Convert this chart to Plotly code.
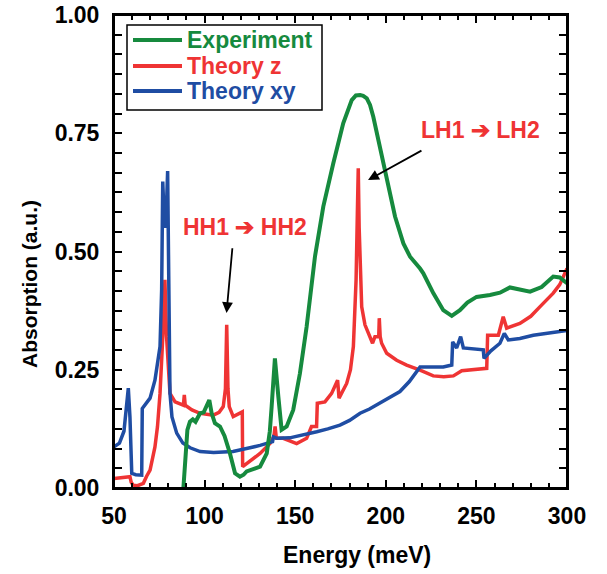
import plotly.graph_objects as go

# ---------------- data ----------------
xy_energy = [50, 53, 55.5, 57, 57.9, 58.8, 59.8, 62, 65.3, 65.6, 68, 69.9, 72.6, 74, 75.4, 76.3, 76.9,
             77.6, 78.3, 79.0, 79.6, 80.2, 80.9, 82, 84.6, 88, 92, 97.5, 105, 115.7, 120, 125, 130.6,
             135, 137.5, 138, 140, 147, 155, 161.9, 168, 174.7, 180, 185.8, 191, 196.8, 202, 207.8,
             213, 218.9, 225, 231.7, 236.4, 236.9, 239.1, 241.3, 242.8, 248, 253.8, 254.2, 258, 263,
             265.4, 267.6, 274, 281.4, 290, 300]
xy_abs = [0.087, 0.095, 0.12, 0.17, 0.211, 0.15, 0.031, 0.028, 0.027, 0.168, 0.18, 0.19, 0.228, 0.26,
          0.299, 0.42, 0.648, 0.58, 0.55, 0.60, 0.670, 0.45, 0.2, 0.15, 0.116, 0.095, 0.085, 0.077,
          0.075, 0.077, 0.08, 0.085, 0.09, 0.095, 0.098, 0.108, 0.105, 0.106, 0.112, 0.119, 0.125,
          0.133, 0.143, 0.158, 0.167, 0.18, 0.192, 0.204, 0.225, 0.256, 0.256, 0.256, 0.26, 0.309,
          0.296, 0.32, 0.296, 0.294, 0.292, 0.274, 0.29, 0.306, 0.327, 0.313, 0.316, 0.323, 0.328, 0.333]

z_energy = [50, 55, 58.8, 59.5, 60.6, 63, 65.5, 66.2, 68, 69.9, 72.6, 74, 75.4, 76.5, 77.2, 78.1, 79,
            80.9, 83.7, 88.3, 88.8, 89.3, 93, 97.5, 104.8, 108, 110.3, 111.5, 112.2, 112.9, 113.6,
            115.8, 118, 120.4, 120.8, 121, 125, 130.6, 136.1, 138.3, 138.9, 139.6, 143.4, 150.8,
            156.3, 159, 161.8, 162.2, 166.4, 170.1, 173.4, 174.2, 178.4, 180.5, 182.1, 183.6, 184.3,
            184.8, 185.3, 186.7, 188.5, 190.4, 192.7, 194, 196.1, 196.4, 196.9, 197.7, 200.5, 206,
            211.5, 218.9, 226.2, 232, 237.3, 241.9, 248, 255.7, 256.2, 262.1, 264.8, 266.7, 274,
            280, 285, 292.4, 296, 300]
z_abs = [0.02, 0.022, 0.024, 0.012, 0.006, 0.005, 0.008, 0.01, 0.025, 0.038, 0.087, 0.13, 0.2, 0.27,
         0.341, 0.44, 0.32, 0.2, 0.182, 0.175, 0.197, 0.175, 0.165, 0.158, 0.154, 0.16, 0.172, 0.21,
         0.345, 0.21, 0.172, 0.151, 0.155, 0.161, 0.161, 0.045, 0.056, 0.073, 0.094, 0.11, 0.13,
         0.105, 0.105, 0.094, 0.105, 0.13, 0.13, 0.179, 0.182, 0.2, 0.228, 0.19, 0.221, 0.25, 0.299,
         0.44, 0.58, 0.676, 0.55, 0.383, 0.345, 0.327, 0.306, 0.32, 0.32, 0.359, 0.32, 0.306, 0.285,
         0.27, 0.26, 0.249, 0.237, 0.235, 0.237, 0.248, 0.25, 0.253, 0.323, 0.323, 0.362, 0.338,
         0.348, 0.363, 0.383, 0.412, 0.43, 0.464]

exp_energy = [88.3, 89.5, 90.5, 91.9, 93.5, 95, 97.5, 99.5, 101.1, 102.6, 103.9, 105.7, 108.5, 111,
              114, 116.8, 119.5, 121.5, 123.2, 127, 130.6, 134.3, 136, 137, 138.8, 140.7, 142.5,
              145.3, 148.9, 152.6, 156.3, 160.9, 165.5, 171, 176.5, 181.2, 183.5, 185.8, 187.5,
              189.5, 191.3, 193.1, 196.8, 200.5, 205.1, 209.7, 213.4, 218.9, 220.7, 226.2, 231.7,
              236.4, 240.9, 245, 250.1, 257.5, 263, 268.5, 274, 279.6, 286, 292.4, 296, 300]
exp_abs = [0.0, 0.07, 0.123, 0.14, 0.145, 0.14, 0.158, 0.16, 0.175, 0.186, 0.158, 0.137, 0.13, 0.11,
           0.073, 0.031, 0.024, 0.028, 0.035, 0.04, 0.045, 0.073, 0.12, 0.172, 0.274, 0.193, 0.123,
           0.13, 0.165, 0.242, 0.341, 0.489, 0.595, 0.686, 0.771, 0.82, 0.83, 0.831, 0.829, 0.824,
           0.81, 0.785, 0.722, 0.651, 0.574, 0.517, 0.489, 0.464, 0.454, 0.412, 0.376, 0.364, 0.376,
           0.392, 0.404, 0.408, 0.413, 0.424, 0.42, 0.415, 0.425, 0.447, 0.445, 0.433]

series_names = ["Experiment", "Theory z", "Theory xy"]
x_ticks = [50, 100, 150, 200, 250, 300]
y_ticks = [0.0, 0.25, 0.5, 0.75, 1.0]
y_tick_labels = ["0.00", "0.25", "0.50", "0.75", "1.00"]

GREEN = "#168A3E"
RED = "#EF3434"
BLUE = "#1F4DA3"
FONT = "Liberation Sans"

W, H = 607, 574
# plot area in window pixels: x 114..567, y 15..488
ML, MT = 114, 15
MR, MB = W - 567, H - 488

fig = go.Figure()
fig.add_trace(go.Scatter(x=z_energy, y=z_abs, mode="lines", name=series_names[1],
                         line=dict(color=RED, width=3.5), showlegend=False))
fig.add_trace(go.Scatter(x=xy_energy, y=xy_abs, mode="lines", name=series_names[2],
                         line=dict(color=BLUE, width=3.5), showlegend=False))
# Experiment is drawn against the top (mirror) energy axis, which matches the bottom one
fig.add_trace(go.Scatter(x=exp_energy, y=exp_abs, mode="lines", name=series_names[0],
                         line=dict(color=GREEN, width=4), showlegend=False, xaxis="x2", yaxis="y"))

axis_common = dict(showline=True, linewidth=2, linecolor="black", mirror="allticks",
                   ticks="inside", ticklen=8, tickwidth=2, tickcolor="black",
                   showgrid=False, zeroline=False, automargin=False, ticklabeloverflow="allow",
                   layer="above traces",
                   tickfont=dict(family=FONT, size=23, color="black", weight="bold"))
x_minor = dict(dtick=10, ticks="inside", ticklen=5, tickwidth=1.5, tickcolor="black")

fig.update_layout(
    xaxis=dict(range=[50, 300], tickvals=x_ticks, ticklabelstandoff=6, minor=x_minor, **axis_common),
    yaxis=dict(range=[0, 1], tickvals=y_ticks, ticktext=y_tick_labels, ticklabelstandoff=8,
               minor=dict(tick0=0, dtick=0.25 / 6, ticks="inside", ticklen=5, tickwidth=1.5,
                          tickcolor="black"),
               **axis_common),
    xaxis2=dict(overlaying="x", side="top", anchor="y", matches="x", range=[50, 300], tickvals=x_ticks,
                showticklabels=False, showline=True, linewidth=2, linecolor="black",
                ticks="inside", ticklen=8, tickwidth=2, tickcolor="black", minor=x_minor,
                showgrid=False, zeroline=False, automargin=False, layer="above traces"),
    width=W, height=H,
    margin=dict(l=ML, r=MR, t=MT, b=MB),
    plot_bgcolor="white", paper_bgcolor="white",
    showlegend=False,
)

pw, ph = W - ML - MR, H - MT - MB
def px_to_paper(px, py):
    """window pixel -> paper coords"""
    return (px - ML) / pw, (H - MB - py) / ph

# full frame around the plotting area
fig.add_shape(type="rect", xref="paper", yref="paper", x0=0, x1=1, y0=0, y1=1,
              line=dict(color="black", width=2), layer="above")

# ---- legend box (drawn like the reference's framed legend) ----
x0, y0 = px_to_paper(127, 25)
x1, y1 = px_to_paper(322, 110)
fig.add_shape(type="rect", xref="paper", yref="paper", x0=x0, y0=y1, x1=x1, y1=y0,
              line=dict(color="black", width=1.5), fillcolor="white", layer="above")
legend_rows = [40, 66, 91]
for name, col, row in zip(series_names, [GREEN, RED, BLUE], legend_rows):
    lx0, ly = px_to_paper(133, row)
    lx1, _ = px_to_paper(182, row)
    fig.add_shape(type="line", xref="paper", yref="paper", x0=lx0, x1=lx1, y0=ly, y1=ly,
                  line=dict(color=col, width=4), layer="above")
    tx, _ = px_to_paper(185, row)
    fig.add_annotation(x=tx, y=ly, xref="paper", yref="paper", text=name, showarrow=False,
                       xanchor="left", yanchor="middle",
                       font=dict(family=FONT, size=23, color=col, weight="bold"))

# axis titles placed as in the reference (slightly off-centre)
tx, ty = px_to_paper(357, 555)
fig.add_annotation(x=tx, y=ty, xref="paper", yref="paper", text="Energy (meV)", showarrow=False,
                   xanchor="center", yanchor="middle",
                   font=dict(family=FONT, size=23, color="black", weight="bold"))
tx, ty = px_to_paper(29, 284)
fig.add_annotation(x=tx, y=ty, xref="paper", yref="paper", text="Absorption (a.u.)", showarrow=False,
                   textangle=-90, xanchor="center", yanchor="middle",
                   font=dict(family=FONT, size=21, color="black", weight="bold"))

fig.add_annotation(x=122.3, y=0.552, xref="x", yref="y", text="HH1 ➔ HH2", showarrow=False,
                   font=dict(family=FONT, size=23, color=RED, weight="bold"))
fig.add_annotation(x=252.5, y=0.757, xref="x", yref="y", text="LH1 ➔ LH2", showarrow=False,
                   font=dict(family=FONT, size=23, color=RED, weight="bold"))
fig.add_annotation(x=112.1, y=0.37, ax=115.4, ay=0.51, xref="x", yref="y", axref="x", ayref="y",
                   text="", showarrow=True, arrowhead=2, arrowsize=1.2, arrowwidth=1.8, arrowcolor="black")
fig.add_annotation(x=190.2, y=0.651, ax=220.5, ay=0.715, xref="x", yref="y", axref="x", ayref="y",
                   text="", showarrow=True, arrowhead=2, arrowsize=1.2, arrowwidth=1.8, arrowcolor="black")

# remove the browser's default 8px page margin so the figure fills the window exactly
fig.write_html("out.html", config={"displayModeBar": False},
               post_script="document.body.style.margin='0';")
